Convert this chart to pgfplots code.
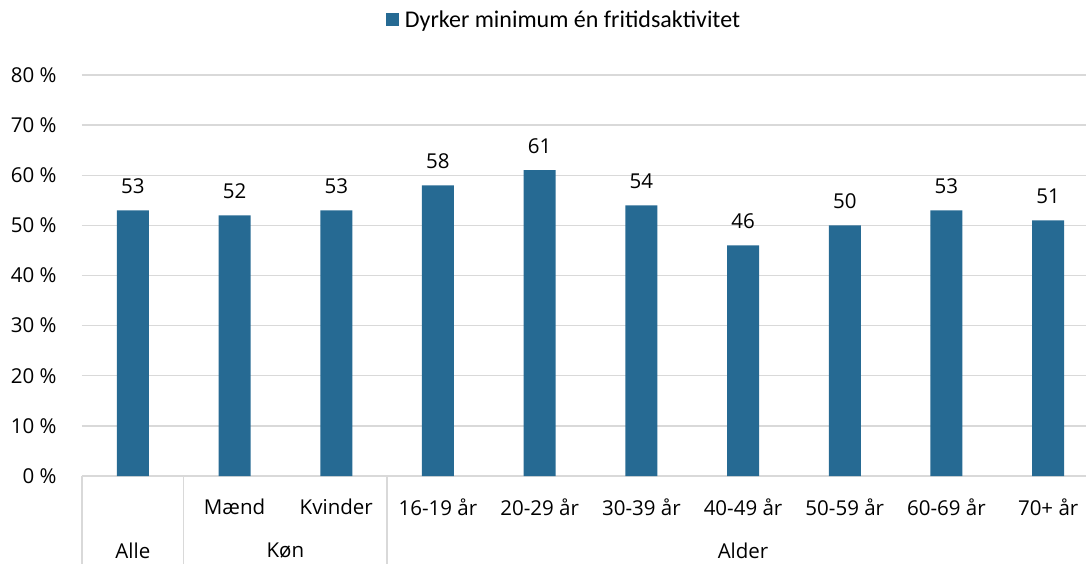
\documentclass[border=0pt]{standalone}
\usepackage{pgfplots}
\pgfplotsset{compat=1.18}
\usepackage{fontspec}
\setmainfont{Open Sans}
\newfontfamily\legfont{Carlito}
\definecolor{barblue}{HTML}{266A93}
\definecolor{gridgray}{HTML}{D9D9D9}
\newcommand\lbl{\fontsize{20.5}{24}\selectfont}
\begin{document}
\begin{tikzpicture}
\begin{axis}[
  at={(0,0)}, anchor=south west,
  scale only axis,
  width=1017pt, height=401pt,
  xmin=-0.5, xmax=9.5,
  ymin=0, ymax=80,
  ytick={0,10,...,80},
  yticklabel={\pgfmathprintnumber{\tick} \%},
  /pgf/number format/assume math mode=true,
  yticklabel style={font=\lbl, text=black, anchor=east, xshift=-22pt},
  xtick={0,...,9},
  xticklabels={,Mænd,Kvinder,16-19 år,20-29 år,30-39 år,40-49 år,50-59 år,60-69 år,70+ år},
  xticklabel style={font=\lbl, anchor=center, yshift=-31pt, text=black},
  major tick length=0pt,
  ymajorgrids,
  grid style={gridgray, line width=1.3pt},
  axis x line*=bottom,
  axis y line*=left,
  y axis line style={draw=none},
  x axis line style={gridgray, line width=1.3pt, -},
  ybar, bar width=32pt,
  nodes near coords={\pgfmathprintnumber{\pgfplotspointmeta}},
  nodes near coords style={font=\lbl, text=black, anchor=south, yshift=13pt},
  legend style={at={(482pt,456pt)}, anchor=center, draw=none, fill=none,
    font=\legfont\fontsize{24}{27}\selectfont, inner sep=0pt,
    legend cell align=left},
  legend image code/.code={\fill[barblue] (0pt,-6.5pt) rectangle (13pt,6.5pt);},
  clip=false,
]
\addplot[fill=barblue, draw=none, bar shift=0pt] coordinates {
  (0,53) (1,52) (2,53) (3,58) (4,61) (5,54) (6,46) (7,50) (8,53) (9,51)};
\addlegendentry{\hspace{4pt}Dyrker minimum én fritidsaktivitet}
\draw[gridgray, line width=1.3pt] (axis cs:-0.5,0) -- ([yshift=-90pt]axis cs:-0.5,0);
\draw[gridgray, line width=1.3pt] (axis cs:0.5,0) -- ([yshift=-90pt]axis cs:0.5,0);
\draw[gridgray, line width=1.3pt] (axis cs:2.5,0) -- ([yshift=-90pt]axis cs:2.5,0);
\node[font=\lbl, anchor=center] at ([yshift=-75pt]axis cs:0,0) {Alle};
\node[font=\lbl, anchor=center] at ([yshift=-75pt]axis cs:1.5,0) {Køn};
\node[font=\lbl, anchor=center] at ([yshift=-75pt]axis cs:6,0) {Alder};
\end{axis}
\pgfresetboundingbox
\path[use as bounding box] (-82pt,-87pt) rectangle (1004pt,476pt);
\end{tikzpicture}
\end{document}
